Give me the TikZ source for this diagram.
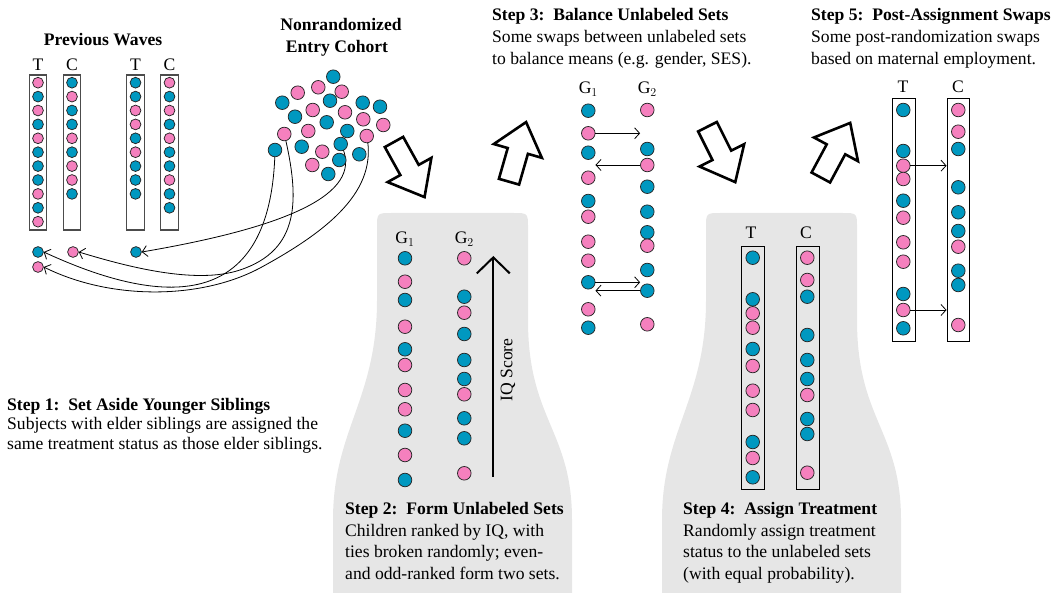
\documentclass[tikz,border=0pt]{standalone}
\usepackage{fontspec}
\setmainfont{Liberation Serif}
\usetikzlibrary{arrows.meta}
\definecolor{cblue}{RGB}{0,152,192}
\definecolor{cpink}{RGB}{245,128,190}
\definecolor{bggray}{RGB}{230,230,230}
\begin{document}
\begin{tikzpicture}[x=1pt,y=-1pt,
  bd/.style={circle, draw=black!85, line width=0.75pt, fill=cblue, minimum size=13.6pt, inner sep=0pt},
  pk/.style={bd, fill=cpink},
  sbd/.style={bd, minimum size=10.8pt},
  spk/.style={pk, minimum size=10.8pt},
  txt/.style={anchor=base west, inner sep=0pt, font=\fontsize{17.6}{21.6}\selectfont},
  btxt/.style={txt, font=\fontsize{17.6}{21.6}\selectfont\bfseries},
  lbl/.style={anchor=base, inner sep=0pt, font=\fontsize{17.6}{21.6}\selectfont},
  oldbox/.style={draw=black!70, line width=1.1pt, minimum width=17.5pt, minimum height=155pt, inner sep=0pt},
  newbox/.style={draw=black, line width=0.9pt, minimum width=22.6pt, minimum height=243pt, inner sep=0pt},
  swaparrow/.style={draw=black, line width=0.8pt, -{Straight Barb[length=5pt,width=11pt]}},
  sibarrow/.style={draw=black, line width=0.8pt, -{Straight Barb[length=5pt,width=11pt]}},
  blockarrow/.style={draw=black, line width=2.6pt, fill=white, line join=miter}
]
\useasboundingbox (0,0) rectangle (1059,593);

% gray backgrounds
\fill[bggray] (333,593) -- (333,520) .. controls (333,430) and (377,400) .. (377,300) -- (377,228) .. controls (377,213) .. (392,213) -- (513,213) .. controls (528,213) .. (528,228) -- (528,320) .. controls (528,420) and (572,430) .. (572,520) -- (572,593) -- cycle;
\begin{scope}[xshift=329pt]
\fill[bggray] (333,593) -- (333,520) .. controls (333,430) and (377,400) .. (377,300) -- (377,228) .. controls (377,213) .. (392,213) -- (513,213) .. controls (528,213) .. (528,228) -- (528,320) .. controls (528,420) and (572,430) .. (572,520) -- (572,593) -- cycle;
\end{scope}

% ---------- Previous waves ----------
\node[btxt, anchor=base] (pwt) at (103,46) {Previous Waves};
\node[lbl] (pwl1) at (38,71) {T};
\node[lbl] (pwl2) at (72,71) {C};
\node[lbl] (pwl3) at (135.5,71) {T};
\node[lbl] (pwl4) at (169.5,71) {C};
\node[oldbox] (ob1) at (38,152.5) {};
\node[oldbox] (ob2) at (72,152.5) {};
\node[oldbox] (ob3) at (135.5,152.5) {};
\node[oldbox] (ob4) at (169.5,152.5) {};
\foreach \c [count=\i] in {spk,sbd,spk,sbd,spk,sbd,sbd,sbd,spk,sbd,spk}
  \node[\c] (pa\i) at (38,{82.7+13.9*(\i-1)}) {};
\foreach \c [count=\i] in {sbd,spk,sbd,sbd,spk,sbd,spk,spk,sbd}
  \node[\c] (pb\i) at (72,{82.7+13.9*(\i-1)}) {};
\foreach \c [count=\i] in {sbd,sbd,spk,spk,sbd,spk,sbd,sbd,sbd}
  \node[\c] (pc\i) at (135.5,{82.7+13.9*(\i-1)}) {};
\foreach \c [count=\i] in {spk,sbd,spk,sbd,spk,sbd,sbd,spk,sbd,sbd}
  \node[\c] (pd\i) at (169.5,{82.7+13.9*(\i-1)}) {};

% younger siblings set aside
\node[sbd] (ys1) at (38,252) {};
\node[spk] (ys2) at (38,267) {};
\node[spk] (ys3) at (73,252) {};
\node[sbd] (ys4) at (136,252) {};

% ---------- Cohort ----------
\node[btxt, anchor=base] (cht1) at (341,31) {Nonrandomized};
\node[btxt, anchor=base] (cht2) at (337,53) {Entry Cohort};

\coordinate (srcA) at (275,150);
\coordinate (srcB) at (284.3,134);
\coordinate (srcC) at (340.7,144);
\coordinate (srcD) at (366.7,136);
% sibling arrows (behind the cohort circles)
\draw[sibarrow] (srcA) .. controls (272,300) and (180,315) .. (ys1.east);
\draw[sibarrow] (srcB) .. controls (300,200) and (300,250) .. (240,270) .. controls (195,285) and (125,266) .. (ys3.east);
\draw[sibarrow] (srcC) .. controls (365,190) and (300,225) .. (ys4.east);
\draw[sibarrow] (srcD) .. controls (378,190) and (330,230) .. (260,268) .. controls (200,300) and (110,300) .. (ys2.east);

\foreach \x/\y/\c [count=\i] in {
  333.3/76.7/bd, 297.7/92.7/pk, 318.3/87.3/pk, 341.7/91.7/pk, 282.3/102.7/bd,
  330/100.7/bd, 312.7/110/pk, 345/112.3/pk, 362.7/102.7/bd, 380/106.7/bd,
  295/116.7/bd, 326.7/122.3/bd, 363.3/119.3/pk, 383.3/125/pk, 284.3/134/pk,
  308.3/131/pk, 347.3/131/bd, 366.7/136/pk, 275/150/bd, 301.7/146.7/bd,
  322.3/151.7/pk, 340.7/144/bd, 312.3/165/pk, 339.3/160/bd, 359.3/154.3/bd,
  328.3/174/bd}
  \node[\c] (co\i) at (\x,\y) {};

% ---------- block arrows ----------
\draw[blockarrow, shift={(394,142)}, rotate=-61] (0,-10.5) -- (32,-10.5) -- (32,-25) -- (63,0) -- (32,25) -- (32,10.5) -- (0,10.5) -- cycle;
\draw[blockarrow, shift={(509,181.7)}, rotate=74] (0,-10.5) -- (32,-10.5) -- (32,-25) -- (62,0) -- (32,25) -- (32,10.5) -- (0,10.5) -- cycle;
\draw[blockarrow, shift={(707.5,126.7)}, rotate=-63.4] (0,-10.5) -- (32,-10.5) -- (32,-25) -- (62,0) -- (32,25) -- (32,10.5) -- (0,10.5) -- cycle;
\draw[blockarrow, shift={(820.8,177.5)}, rotate=61.7] (0,-10.5) -- (32,-10.5) -- (32,-25) -- (62,0) -- (32,25) -- (32,10.5) -- (0,10.5) -- cycle;

% ---------- Step 1 text ----------
\node[btxt] (s1t) at (7,410) {Step 1:\ \ Set Aside Younger Siblings};
\node[txt] (s1a) at (7,429) {Subjects with elder siblings are assigned the};
\node[txt] (s1b) at (7,449) {same treatment status as those elder siblings.};

% ---------- Step 2 ----------
\node[lbl] (g2l1) at (405,244) {G$_1$};
\node[lbl] (g2l2) at (464.3,244) {G$_2$};
\foreach \y/\c [count=\i] in {258.3/bd,281.7/pk,300/bd,326.7/pk,349.3/bd,365/pk,390/pk,409.3/pk,430.7/bd,455/pk,480/bd}
  \node[\c] (sa\i) at (405,\y) {};
\foreach \y/\c [count=\i] in {258.3/pk,296.7/bd,312.7/pk,334/bd,360/bd,379/bd,394.3/pk,418.3/bd,438.3/bd,473.3/pk}
  \node[\c] (sb\i) at (464.3,\y) {};
\coordinate (iqlo) at (493.3,476.7);
\coordinate (iqhi) at (493.3,256);
\draw[line width=2pt, -{Straight Barb[length=16pt,width=33pt]}] (iqlo) -- (iqhi);
\node[lbl, anchor=center, rotate=90] (iqt) at (508,370) {IQ Score};
\node[btxt] (s2t) at (345,514) {Step 2:\ \ Form Unlabeled Sets};
\node[txt] (s2a) at (345,536) {Children ranked by IQ, with};
\node[txt] (s2b) at (345,557) {ties broken randomly; even-};
\node[txt] (s2c) at (345,579) {and odd-ranked form two sets.};

% ---------- Step 3 ----------
\node[btxt] (s3t) at (492,21) {Step 3:\ \ Balance Unlabeled Sets};
\node[txt] (s3a) at (492,43) {Some swaps between unlabeled sets};
\node[txt] (s3b) at (492,65) {to balance means (e.g. gender, SES).};
\node[lbl] (g3l1) at (588.3,94) {G$_1$};
\node[lbl] (g3l2) at (647.3,94) {G$_2$};
\foreach \y/\c [count=\i] in {110.7/bd,133.3/pk,152.7/bd,177.7/pk,201/bd,216.7/pk,241.7/pk,260.7/pk,282.3/bd,309.3/pk,327.7/bd}
  \node[\c] (ta\i) at (588.3,\y) {};
\foreach \y/\c [count=\i] in {110/pk,149/bd,165/pk,186.7/bd,211.7/bd,232.3/bd,245.7/pk,270/bd,290.7/bd,324.3/pk}
  \node[\c] (tb\i) at (647.3,\y) {};
\draw[swaparrow] (ta2.east) -- (ta2 -| tb1.west);
\draw[swaparrow] (tb3.west) -- (tb3 -| ta1.east);
\draw[swaparrow] (ta9.east) -- (ta9 -| tb1.west);
\draw[swaparrow] (tb9.west) -- (tb9 -| ta1.east);

% ---------- Step 4 ----------
\node[lbl] (s4l1) at (751,239) {T};
\node[lbl] (s4l2) at (806,239) {C};
\node[newbox] (tbox4) at (753,367.7) {};
\node[newbox] (cbox4) at (807.7,367.7) {};
\foreach \y/\c [count=\i] in {257.7/bd,299.3/bd,313.3/pk,327.7/pk,349/bd,366/pk,390.7/pk,410/pk,442/bd,458/pk,477.3/bd}
  \node[\c] (ua\i) at (752.7,\y) {};
\foreach \y/\c [count=\i] in {257.7/pk,280/pk,296.7/bd,335/bd,360/bd,379/bd,395/pk,419/bd,434/bd,472.7/pk}
  \node[\c] (ub\i) at (807.3,\y) {};
\node[btxt] (s4t) at (683,514) {Step 4:\ \ Assign Treatment};
\node[txt] (s4a) at (683,536) {Randomly assign treatment};
\node[txt] (s4b) at (683,557) {status to the unlabeled sets};
\node[txt] (s4c) at (683,579) {(with equal probability).};

% ---------- Step 5 ----------
\node[btxt] (s5t) at (811,21) {Step 5:\ \ Post-Assignment Swaps};
\node[txt] (s5a) at (811,43) {Some post-randomization swaps};
\node[txt] (s5b) at (811,65) {based on maternal employment.};
\node[lbl] (s5l1) at (903,93) {T};
\node[lbl] (s5l2) at (958,93) {C};
\node[newbox] (tbox5) at (903.7,219.7) {};
\node[newbox] (cbox5) at (958.3,219.7) {};
\foreach \y/\c [count=\i] in {110/bd,151/bd,165.7/pk,179/pk,200.7/bd,217.7/pk,242.3/pk,261.7/pk,294/bd,310/pk,328.3/bd}
  \node[\c] (va\i) at (903.3,\y) {};
\foreach \y/\c [count=\i] in {110/pk,131.7/pk,149/bd,187.3/bd,212.3/bd,231/bd,246.7/pk,270.7/bd,285/bd,325/pk}
  \node[\c] (vb\i) at (958.3,\y) {};
\draw[swaparrow] (va3.east) -- (va3 -| cbox5.west);
\draw[swaparrow] (va10.east) -- (va10 -| cbox5.west);
\end{tikzpicture}
\end{document}
